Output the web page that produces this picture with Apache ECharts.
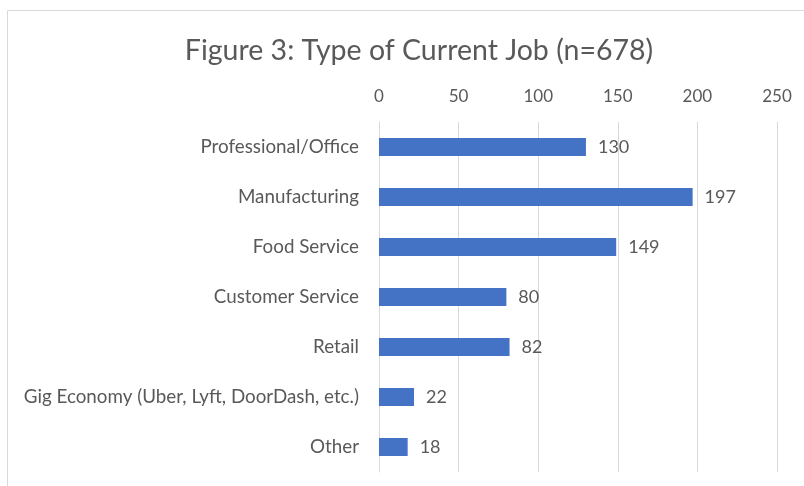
<!DOCTYPE html>
<html>
<head>
<meta charset="utf-8">
<script src="https://cdn.jsdelivr.net/npm/echarts@6/dist/echarts.min.js"></script>
<style>
  html, body { margin: 0; padding: 0; background: #fff; }
  #chart { width: 804px; height: 486px; }
</style>
</head>
<body>
<div id="chart"></div>
<script>
// Job categories, top to bottom
const categories = [
  'Professional/Office',
  'Manufacturing',
  'Food Service',
  'Customer Service',
  'Retail',
  'Gig Economy (Uber, Lyft, DoorDash, etc.)',
  'Other'
];
// Number of respondents per category
const counts = [130, 197, 149, 80, 82, 22, 18];
// Value axis ticks
const xTicks = [0, 50, 100, 150, 200, 250];

const textColor = '#595959';
const fontFamily = 'Lato, "Open Sans", sans-serif';

const chart = echarts.init(document.getElementById('chart'));
chart.setOption({
  backgroundColor: '#ffffff',
  animation: false,
  title: {
    text: 'Figure 3: Type of Current Job (n=678)',
    left: 414,
    top: 31,
    textAlign: 'center',
    textStyle: { fontFamily, fontSize: 28.5, fontWeight: 'normal', color: textColor }
  },
  graphic: [{
    type: 'rect',
    shape: { x: 7.5, y: 10.5, width: 820, height: 500 },
    style: { fill: 'none', stroke: '#d9d9d9', lineWidth: 1 },
    silent: true
  }],
  grid: { left: 379, right: 27, top: 122, bottom: 14, containLabel: false },
  xAxis: {
    type: 'value',
    position: 'top',
    min: xTicks[0],
    max: xTicks[xTicks.length - 1],
    interval: 50,
    axisLine: { show: false },
    axisTick: { show: false },
    axisLabel: { fontFamily, fontSize: 17, color: textColor, margin: 17 },
    splitLine: { show: true, lineStyle: { color: '#d9d9d9', width: 1 } }
  },
  yAxis: {
    type: 'category',
    data: categories,
    inverse: true,
    axisLine: { show: true, lineStyle: { color: '#d9d9d9' } },
    axisTick: { show: false },
    axisLabel: { fontFamily, fontSize: 18.8, color: textColor, margin: 20 }
  },
  series: [{
    type: 'bar',
    data: counts,
    barWidth: 18,
    itemStyle: { color: '#4472c4' },
    label: {
      show: true,
      position: 'right',
      distance: 12,
      fontFamily,
      fontSize: 18,
      color: textColor
    }
  }]
});
</script>
</body>
</html>
